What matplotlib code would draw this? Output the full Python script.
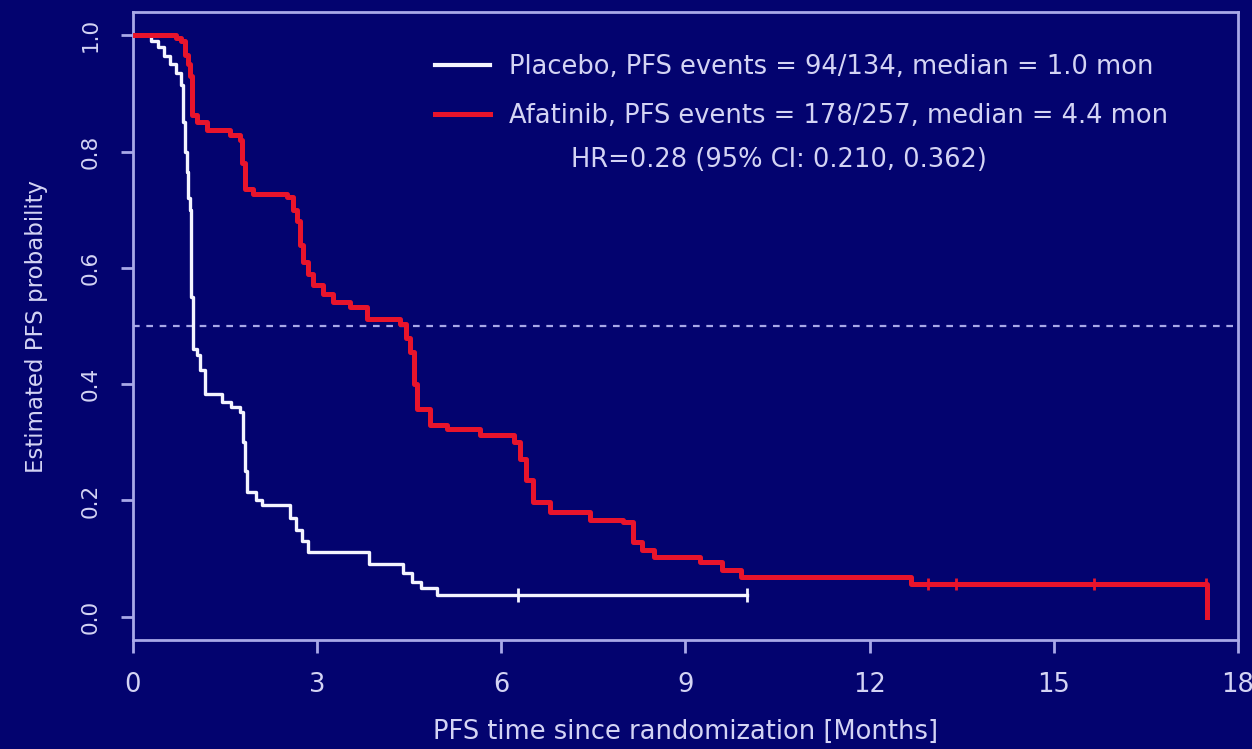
import matplotlib
matplotlib.use("Agg")
import matplotlib.pyplot as plt
from matplotlib.lines import Line2D

# ---- data ----
placebo_t = [0.0, 0.30, 0.40, 0.50, 0.60, 0.70, 0.78, 0.82, 0.85, 0.88, 0.90, 0.93, 0.95, 0.97,
             1.05, 1.10, 1.17, 1.45, 1.60, 1.75, 1.80, 1.83, 1.86, 2.00, 2.10, 2.55, 2.65, 2.75,
             2.85, 3.85, 4.40, 4.55, 4.70, 4.95, 10.0]
placebo_s = [1.0, 0.99, 0.98, 0.965, 0.95, 0.935, 0.915, 0.85, 0.80, 0.765, 0.72, 0.70, 0.55, 0.46,
             0.45, 0.425, 0.383, 0.37, 0.36, 0.352, 0.30, 0.25, 0.215, 0.20, 0.192, 0.17, 0.15, 0.13,
             0.112, 0.091, 0.075, 0.06, 0.05, 0.038, 0.038]
placebo_cens = [6.28, 10.0]
placebo_cens_s = [0.038, 0.038]

afat_t = [0.0, 0.70, 0.78, 0.85, 0.90, 0.93, 0.96, 1.04, 1.20, 1.58, 1.74, 1.78, 1.83, 1.96, 2.51,
          2.60, 2.67, 2.72, 2.77, 2.85, 2.93, 3.10, 3.26, 3.54, 3.82, 4.35, 4.45, 4.52, 4.58, 4.63,
          4.84, 5.12, 5.66, 6.20, 6.31, 6.40, 6.52, 6.80, 7.45, 7.99, 8.15, 8.30, 8.48, 9.24, 9.60,
          9.90, 12.40, 12.67, 17.48, 17.50]
afat_s = [1.0, 0.995, 0.99, 0.966, 0.95, 0.93, 0.862, 0.85, 0.837, 0.828, 0.82, 0.78, 0.735, 0.727,
          0.722, 0.70, 0.68, 0.64, 0.61, 0.59, 0.57, 0.555, 0.541, 0.533, 0.512, 0.503, 0.48, 0.455,
          0.40, 0.357, 0.33, 0.323, 0.313, 0.30, 0.272, 0.235, 0.198, 0.18, 0.167, 0.163, 0.129,
          0.115, 0.103, 0.094, 0.08, 0.069, 0.069, 0.057, 0.057, 0.0]
afat_cens = [12.95, 13.4, 15.65, 17.48]
afat_cens_s = [0.057, 0.057, 0.057, 0.057]

legend_labels = ["Placebo, PFS events = 94/134, median = 1.0 mon",
                 "Afatinib, PFS events = 178/257, median = 4.4 mon"]
hr_text = "HR=0.28 (95% CI: 0.210, 0.362)"
xticks = [0, 3, 6, 9, 12, 15, 18]
yticks = [0.0, 0.2, 0.4, 0.6, 0.8, 1.0]
ytick_labels = ["0.0", "0.2", "0.4", "0.6", "0.8", "1.0"]

# ---- style ----
BG = "#03036f"
AX = "#a8a8e8"
TXT = "#d4d4f4"
RED = "#e8142c"
WHITE = "#f4f4ff"

plt.rcParams["font.family"] = ["DejaVu Sans"]

fig = plt.figure(figsize=(12.52, 7.49), dpi=100, facecolor=BG)
ax = fig.add_axes([0.1062, 0.1455, 0.8826, 0.8385], facecolor=BG)

ax.axhline(0.5, color=AX, lw=1.6, ls=(0, (3, 3)), zorder=1)

ax.plot(placebo_t, placebo_s, drawstyle="steps-post", color=WHITE, lw=2.4, zorder=3)
ax.plot(afat_t, afat_s, drawstyle="steps-post", color=RED, lw=3.6, zorder=4)
ax.plot(placebo_cens, placebo_cens_s, ls="none", marker="|", ms=10, mew=2, color=WHITE, zorder=3)
ax.plot(afat_cens, afat_cens_s, ls="none", marker="|", ms=8, mew=2, color=RED, zorder=4)

ax.set_xlim(0, 18)
ax.set_ylim(-0.04, 1.04)
ax.set_xticks(xticks)
ax.set_yticks(yticks)
ax.set_yticklabels(ytick_labels, rotation=90, va="center")

for sp in ax.spines.values():
    sp.set_color(AX)
    sp.set_linewidth(2)
ax.tick_params(colors=AX, labelcolor=TXT, width=2, length=9)
ax.tick_params(axis="x", labelsize=18.5, pad=14)
ax.tick_params(axis="y", labelsize=15.5, pad=14)

ax.set_xlabel("PFS time since randomization [Months]", color=TXT, fontsize=18.5, labelpad=15)
ax.set_ylabel("Estimated PFS probability", color=TXT, fontsize=16.5, labelpad=24)

handles = [Line2D([], [], color=WHITE, lw=3), Line2D([], [], color=RED, lw=3.6)]
leg = ax.legend(handles, legend_labels, loc="upper left", bbox_to_anchor=(0.273, 0.933),
                frameon=False, fontsize=18.5, handlelength=2.15, handletextpad=0.75,
                labelspacing=0.9, borderaxespad=0, borderpad=0, labelcolor=TXT)
ax.text(0.585, 0.764, hr_text, transform=ax.transAxes, color=TXT, fontsize=18.5,
        ha="center", va="center")

fig.savefig("out.png", dpi=100, facecolor=BG)
